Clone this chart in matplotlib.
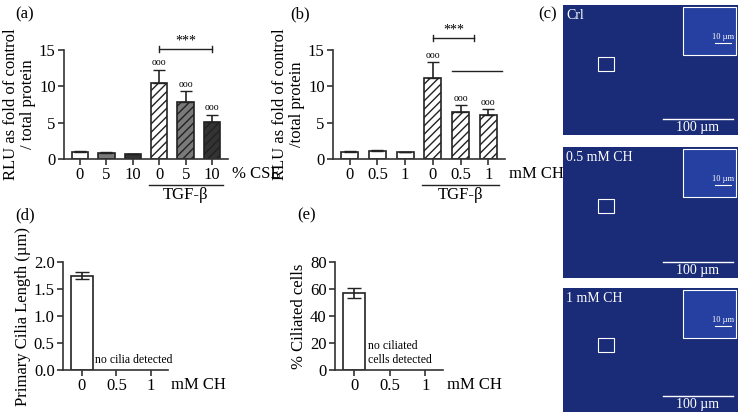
import matplotlib
matplotlib.use("Agg")
import matplotlib.pyplot as plt
from matplotlib.patches import Rectangle

plt.rcParams["font.family"] = "Liberation Serif"
W, H = 742, 420

a_labels = ["0", "5", "10", "0", "5", "10"]
a_vals = [1.0, 0.8, 0.65, 10.4, 7.9, 5.1]
a_errs = [0.05, 0.1, 0.08, 1.9, 1.5, 1.0]
a_face = ["white", "#7a7a7a", "#333333", "white", "#7a7a7a", "#333333"]

b_labels = ["0", "0.5", "1", "0", "0.5", "1"]
b_vals = [1.0, 1.05, 0.9, 11.2, 6.4, 6.0]
b_errs = [0.08, 0.15, 0.12, 2.1, 1.0, 0.9]

d_labels = ["0", "0.5", "1"]
d_vals = [1.75, 0, 0]
d_errs = [0.06, 0, 0]
e_vals = [57, 0, 0]
e_errs = [4, 0, 0]

FS = 12
fig = plt.figure(figsize=(W / 100, H / 100), dpi=100)


def ax_px(l, r, t, b):
    return fig.add_axes([l / W, 1 - b / H, (r - l) / W, (b - t) / H])


def style(ax):
    ax.spines["top"].set_visible(False)
    ax.spines["right"].set_visible(False)
    for s in ("left", "bottom"):
        ax.spines[s].set_linewidth(1.2)
        ax.spines[s].set_color("#333333")
    ax.tick_params(labelsize=FS, width=1.2, length=4, color="#333333", pad=2)


def bar_panel(ax, vals, errs, faces, labels, unit, ylabel):
    x = list(range(len(vals)))
    hatches = ["", "", "", "////", "////", "////"]
    for i in x:
        ax.bar(i, vals[i], width=0.62, color=faces[i], edgecolor="#222222",
               linewidth=1.2, hatch=hatches[i], zorder=2)
        ax.errorbar(i, vals[i], yerr=[[0], [errs[i]]], color="#222222",
                    capsize=4, lw=1.2, zorder=3)
    ax.set_xlim(-0.6, 5.6)
    ax.set_ylim(0, 15)
    ax.set_yticks([0, 5, 10, 15])
    ax.set_xticks(x)
    ax.set_xticklabels(labels)
    ax.set_ylabel(ylabel, fontsize=FS, linespacing=1.1, labelpad=2)
    style(ax)
    ax.text(5.75, -2.1, unit, fontsize=FS, va="center", ha="left", clip_on=False)
    ax.plot([2.6, 5.4], [-3.6, -3.6], color="#222222", lw=1, clip_on=False)
    ax.text(4, -5.0, "TGF-β", fontsize=FS, ha="center", va="center")
    for i in (3, 4, 5):
        ax.text(i, vals[i] + errs[i] + 0.3, "ooo", fontsize=7, ha="center",
                va="bottom", clip_on=False)


axa = ax_px(64, 228, 50, 159)
bar_panel(axa, a_vals, a_errs, a_face, a_labels, "% CSE",
          "RLU as fold of control\n/ total protein")
axa.plot([3, 5], [15.1, 15.1], color="#222222", lw=1, clip_on=False)
axa.plot([3, 3], [14.7, 15.5], color="#222222", lw=1, clip_on=False)
axa.plot([5, 5], [14.7, 15.5], color="#222222", lw=1, clip_on=False)
axa.text(4, 15.3, "***", ha="center", va="bottom", fontsize=10)

axb = ax_px(333, 505, 50, 159)
bar_panel(axb, b_vals, b_errs, ["white"] * 6, b_labels, "mM CH",
          "RLU as fold of control\n/total protein")
axb.plot([3, 4.5], [16.6, 16.6], color="#222222", lw=1, clip_on=False)
axb.plot([3, 3], [16.2, 17.0], color="#222222", lw=1, clip_on=False)
axb.plot([4.5, 4.5], [16.2, 17.0], color="#222222", lw=1, clip_on=False)
axb.text(3.75, 16.8, "***", ha="center", va="bottom", fontsize=10)
axb.plot([3.7, 5.5], [12.1, 12.1], color="#222222", lw=1, clip_on=False)


def small_panel(ax, vals, errs, ylim, yticks, ylabel, note, fmt):
    x = list(range(len(vals)))
    ax.bar(x[:1], vals[:1], width=0.62, color="white", edgecolor="#222222",
           linewidth=1.2, zorder=2)
    ax.errorbar(0, vals[0], yerr=errs[0], color="#222222", capsize=5, lw=1.2)
    ax.set_xlim(-0.55, 2.5)
    ax.set_ylim(*ylim)
    ax.set_yticks(yticks)
    ax.set_yticklabels([fmt.format(v) for v in yticks])
    ax.set_xticks(x)
    ax.set_xticklabels(d_labels)
    ax.set_ylabel(ylabel, fontsize=FS, labelpad=2)
    style(ax)
    ax.text(0.38, ylim[1] * 0.04, note, fontsize=8.5, ha="left", va="bottom")
    ax.text(2.6, -ylim[1] * 0.14, "mM CH", fontsize=FS, va="center")


axd = ax_px(63, 168, 262, 370)
small_panel(axd, d_vals, d_errs, (0, 2.0), [0.0, 0.5, 1.0, 1.5, 2.0],
            "Primary Cilia Length (µm)", "no cilia detected", "{:.1f}")
axe = ax_px(335, 443, 262, 370)
small_panel(axe, e_vals, e_errs, (0, 80), [0, 20, 40, 60, 80],
            "% Ciliated cells", "no ciliated\ncells detected", "{:.0f}")

for lbl, (x, y) in {"(a)": (15, 14), "(b)": (290, 14), "(c)": (538, 14),
                    "(d)": (15, 215), "(e)": (297, 215)}.items():
    fig.text(x / W, 1 - y / H, lbl, fontsize=12, va="center")

# panel (c): microscopy placeholders
panels = [("Crl", 5, 135), ("0.5 mM CH", 147, 278), ("1 mM CH", 288, 412)]
for name, t, b in panels:
    ax = ax_px(563, 738, t, b)
    ax.set_xlim(0, 175)
    ax.set_ylim(b - t, 0)
    ax.set_facecolor("#1a2c78")
    ax.set_xticks([]); ax.set_yticks([])
    for s in ax.spines.values():
        s.set_visible(False)
    ax.add_patch(Rectangle((120, 2), 53, 48, facecolor="#2540a0",
                           edgecolor="white", lw=0.8))
    ax.plot([152, 168], [38, 38], color="white", lw=0.8)
    ax.text(160, 36, "10 µm", color="white", fontsize=6, ha="center", va="bottom")
    ax.text(3, 4, name, color="white", fontsize=10, va="top")
    h = b - t
    ax.plot([100, 170], [h - 16, h - 16], color="white", lw=1)
    ax.text(135, h - 4, "100 µm", color="white", fontsize=10, ha="center")
    ax.add_patch(Rectangle((35, h * 0.4), 16, 14, fill=False,
                           edgecolor="white", lw=0.8))

fig.savefig("out.png", dpi=100)
